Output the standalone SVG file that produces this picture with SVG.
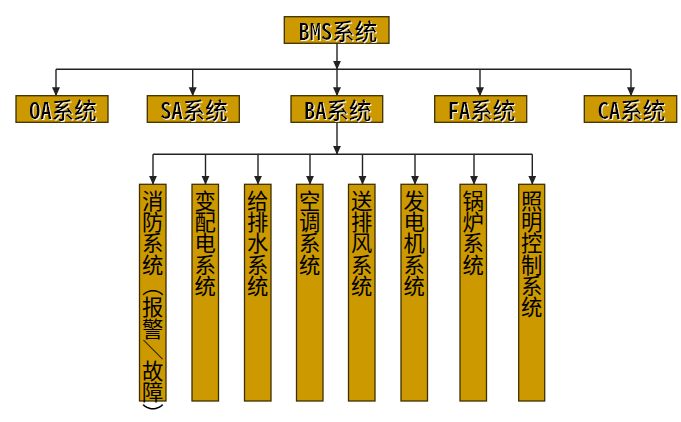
<svg xmlns="http://www.w3.org/2000/svg" width="681" height="422" viewBox="0 0 681 422">
<style>
.box{fill:#CC9900;stroke:#3d3000;stroke-width:1.3}
.lbl{font-family:"Noto Sans CJK SC","Noto Sans",sans-serif;font-size:22.5px;font-weight:500;fill:#000;text-anchor:middle;font-feature-settings:"hwid";filter:url(#sh)}
.vt{font-family:"Noto Sans CJK SC","Noto Sans",sans-serif;font-size:21.3px;fill:#000;writing-mode:vertical-rl}
.vh{font-family:"Noto Sans CJK SC","Noto Sans",sans-serif;font-size:21.3px;fill:#000;text-anchor:middle}
.ln{stroke:#222;stroke-width:1.4;fill:none}
.ar{stroke:#222;stroke-width:1.4;fill:none;marker-end:url(#ah)}
</style>
<defs>
<marker id="ah" markerUnits="userSpaceOnUse" markerWidth="9" markerHeight="9" refX="8.5" refY="4" orient="auto" viewBox="0 0 9 8">
<path d="M0,0 L9,4 L0,8 z" fill="#222"/>
</marker>
<filter id="sh" x="-5%" y="-5%" width="110%" height="120%">
<feDropShadow dx="1" dy="1" stdDeviation="0" flood-color="#ffffff" flood-opacity="0.9"/>
</filter>
</defs>
<rect width="681" height="422" fill="#ffffff"/>
<g id="connectors">
<path class="ar" d="M337,43.5 V69.3"/>
<path class="ln" d="M56,69.3 H631"/>
<path class="ar" d="M56,69.3 V95.7"/>
<path class="ar" d="M192.7,69.3 V95.7"/>
<path class="ar" d="M337,69.3 V95.7"/>
<path class="ar" d="M480,69.3 V95.7"/>
<path class="ar" d="M631,69.3 V95.7"/>
<path class="ar" d="M337,122.3 V154.3"/>
<path class="ln" d="M153,154.3 H532.3"/>
<path class="ar" d="M153,154.3 V184.3"/>
<path class="ar" d="M205.5,154.3 V184.3"/>
<path class="ar" d="M258,154.3 V184.3"/>
<path class="ar" d="M310,154.3 V184.3"/>
<path class="ar" d="M362.5,154.3 V184.3"/>
<path class="ar" d="M415,154.3 V184.3"/>
<path class="ar" d="M474,154.3 V184.3"/>
<path class="ar" d="M532.3,154.3 V184.3"/>
</g>
<g id="bms">
<rect class="box" x="284.3" y="16.7" width="104.7" height="26.6"/>
<text class="lbl" x="338" y="39.8">BMS系统</text>
</g>
<g id="oa">
<rect class="box" x="16" y="95.7" width="92" height="26.6"/>
<text class="lbl" x="63" y="118.8">OA系统</text>
</g>
<g id="sa">
<rect class="box" x="147.3" y="95.7" width="92" height="26.6"/>
<text class="lbl" x="194" y="118.8">SA系统</text>
</g>
<g id="ba">
<rect class="box" x="291" y="95.7" width="91.7" height="26.6"/>
<text class="lbl" x="337.8" y="118.8">BA系统</text>
</g>
<g id="fa">
<rect class="box" x="434.7" y="95.7" width="92" height="26.6"/>
<text class="lbl" x="481.5" y="118.8">FA系统</text>
</g>
<g id="ca">
<rect class="box" x="584.3" y="95.7" width="92.4" height="26.6"/>
<text class="lbl" x="631.5" y="118.8">CA系统</text>
</g>
<g id="xiaofang">
<rect class="box" x="139.5" y="184.3" width="26.5" height="216.7"/>
<text class="vh" x="152.7 152.7 152.7 152.7 155.3 152.7 152.7 155.3 152.7 152.7 155.3" y="208.7 230 251.3 272.6 275.2 315.2 336.5 339.1 379.1 400.4 403" rotate="0 0 0 0 90 0 0 90 0 0 90">消防系统（报警／故障）</text>
</g>
<g id="biandian">
<rect class="box" x="192" y="184.3" width="26.5" height="216.7"/>
<text class="vt" x="205.2" y="190">变配电系统</text>
</g>
<g id="geipaishui">
<rect class="box" x="244.5" y="184.3" width="26.5" height="216.7"/>
<text class="vt" x="257.7" y="190">给排水系统</text>
</g>
<g id="kongtiao">
<rect class="box" x="296.5" y="184.3" width="26.5" height="216.7"/>
<text class="vt" x="309.7" y="190">空调系统</text>
</g>
<g id="songpaifeng">
<rect class="box" x="348.5" y="184.3" width="26.5" height="216.7"/>
<text class="vt" x="361.7" y="190">送排风系统</text>
</g>
<g id="fadianji">
<rect class="box" x="401" y="184.3" width="26.5" height="216.7"/>
<text class="vt" x="414.2" y="190">发电机系统</text>
</g>
<g id="guolu">
<rect class="box" x="460" y="184.3" width="26.5" height="216.7"/>
<text class="vt" x="473.2" y="190">锅炉系统</text>
</g>
<g id="zhaoming">
<rect class="box" x="518.7" y="184.3" width="26" height="216.7"/>
<text class="vt" x="531.7" y="190">照明控制系统</text>
</g>
</svg>
